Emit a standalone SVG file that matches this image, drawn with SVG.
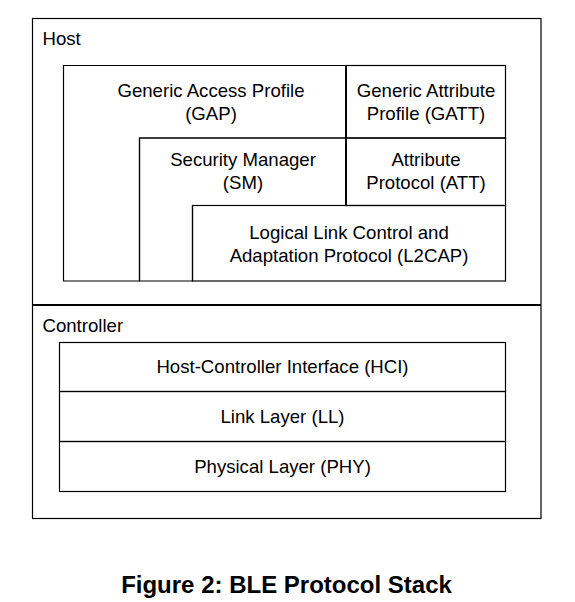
<svg xmlns="http://www.w3.org/2000/svg" width="575" height="602" viewBox="0 0 575 602">
<style>
.b{fill:none;stroke:#000;stroke-width:1.2}
.t{font-family:"Liberation Sans",Arial,sans-serif;font-size:18.6px;fill:#000}
.m{text-anchor:middle}
.cap{font-family:"Liberation Sans",Arial,sans-serif;font-size:24px;font-weight:bold;text-anchor:middle;fill:#000}
</style>
<rect width="575" height="602" fill="#fff"/>
<g id="outer">
<rect class="b" x="32.5" y="18.5" width="508.5" height="500" stroke-width="1.4"/>
<line x1="32.5" y1="305" x2="541" y2="305" stroke="#000" stroke-width="2"/>
</g>
<g id="host">
<text class="t" x="42.5" y="45">Host</text>
</g>
<g id="gap">
<path class="b" d="M63.5,65.5 H346 V138 H139.5 V281 H63.5 Z"/>
<text class="t m" x="211" y="96.5">Generic Access Profile</text>
<text class="t m" x="211" y="119.5">(GAP)</text>
</g>
<g id="gatt">
<rect class="b" x="346" y="65.5" width="159.5" height="72.5"/>
<line x1="346" y1="65.5" x2="346" y2="205.5" stroke="#000" stroke-width="1.8"/>
<text class="t m" x="426" y="96.5">Generic Attribute</text>
<text class="t m" x="426" y="119.5">Profile (GATT)</text>
</g>
<g id="sm">
<path class="b" d="M139.5,138 H346 V205.5 H192.5 V281 H139.5 Z"/>
<text class="t m" x="243" y="165.5">Security Manager</text>
<text class="t m" x="243" y="188.5">(SM)</text>
</g>
<g id="att">
<rect class="b" x="346" y="138" width="159.5" height="67.5"/>
<text class="t m" x="426" y="166">Attribute</text>
<text class="t m" x="426" y="189">Protocol (ATT)</text>
</g>
<g id="l2cap">
<rect class="b" x="192.5" y="205.5" width="313" height="75.5"/>
<text class="t m" x="349" y="238.5">Logical Link Control and</text>
<text class="t m" x="349" y="261.5">Adaptation Protocol (L2CAP)</text>
</g>
<g id="controller">
<text class="t" x="42.5" y="332">Controller</text>
</g>
<g id="hci">
<rect class="b" x="59.5" y="342.5" width="446" height="49"/>
<text class="t m" x="282.5" y="373">Host-Controller Interface (HCI)</text>
</g>
<g id="ll">
<rect class="b" x="59.5" y="391.5" width="446" height="50"/>
<text class="t m" x="282.5" y="423">Link Layer (LL)</text>
</g>
<g id="phy">
<rect class="b" x="59.5" y="441.5" width="446" height="50"/>
<text class="t m" x="282.5" y="473">Physical Layer (PHY)</text>
</g>
<g id="connectors"></g>
<g id="caption">
<text class="cap" x="286.5" y="593">Figure 2: BLE Protocol Stack</text>
</g>
</svg>
